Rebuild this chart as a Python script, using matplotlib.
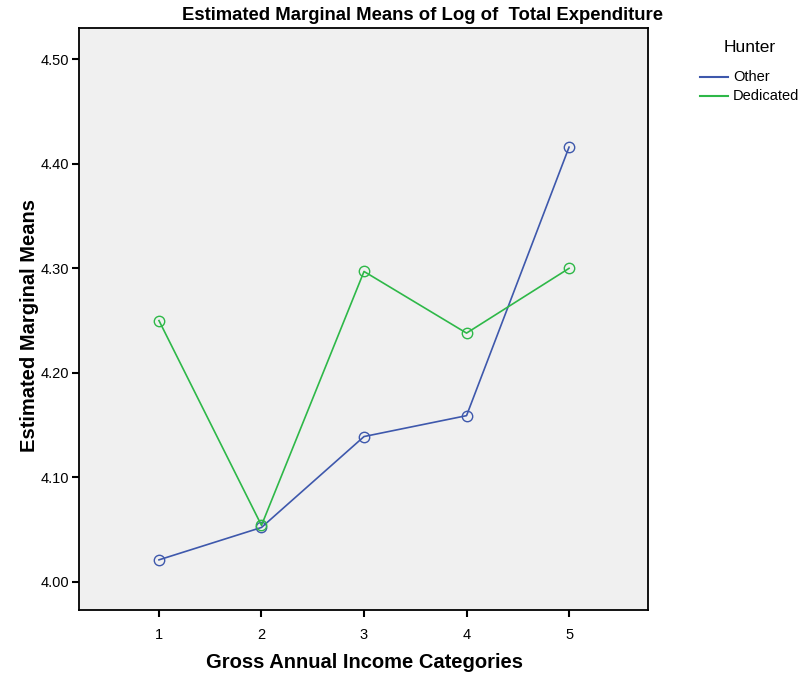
import matplotlib
matplotlib.use("Agg")
import matplotlib.pyplot as plt
from matplotlib.lines import Line2D

# Estimated marginal means by income category and hunter type
categories = [1, 2, 3, 4, 5]
other = [4.021, 4.052, 4.139, 4.159, 4.416]
dedicated = [4.250, 4.054, 4.297, 4.238, 4.300]
y_ticks = [4.00, 4.10, 4.20, 4.30, 4.40, 4.50]
series_names = ["Other", "Dedicated"]

font = "Liberation Sans"
blue = "#3E58AC"
green = "#2EB848"

W, H = 802, 677
fig = plt.figure(figsize=(W / 100, H / 100), dpi=100)
ax = fig.add_axes([79 / W, 1 - 610 / H, (648 - 79) / W, (610 - 28) / H])
ax.set_facecolor("#F0F0F0")

for vals, col in ((other, blue), (dedicated, green)):
    ax.plot(categories, vals, color=col, lw=1.2, marker="o", ms=7.5,
            mfc="none", mec=col, mew=1.0)

ax.set_xlim(0.22, 5.77)
ax.set_ylim(3.973, 4.53)
ax.set_xticks(categories)
ax.set_xticklabels([str(c) for c in categories], fontfamily=font, fontsize=10.5)
ax.set_yticks(y_ticks)
ax.set_yticklabels([f"{v:.2f}" for v in y_ticks], fontfamily=font, fontsize=10.5)
ax.tick_params(direction="out", length=5, width=1.5, color="black", pad=2)
ax.tick_params(axis="x", pad=8)
for s in ax.spines.values():
    s.set_linewidth(1.3)

fig.text(422 / W, 1 - 16 / H, "Estimated Marginal Means of Log of  Total Expenditure",
         ha="center", va="center", fontfamily=font, fontweight="bold", fontsize=13.3)
fig.text(364 / W, 1 - 662 / H, "Gross Annual Income Categories",
         ha="center", va="center", fontfamily=font, fontweight="bold", fontsize=14.5)
fig.text(30 / W, 1 - 325 / H, "Estimated Marginal Means", rotation=90,
         ha="center", va="center", fontfamily=font, fontweight="bold", fontsize=14.5)

# Legend drawn in figure pixels
fig.text(750 / W, 1 - 47 / H, "Hunter", ha="center", va="center",
         fontfamily=font, fontsize=12.5)
for i, (name, col) in enumerate(zip(series_names, (blue, green))):
    yy = 1 - (77 + 19 * i) / H
    fig.add_artist(Line2D([700 / W, 728 / W], [yy, yy], color=col, lw=1.5,
                          transform=fig.transFigure))
    fig.text(733 / W, yy, name, ha="left", va="center",
             fontfamily=font, fontsize=10.5)

fig.savefig("out.png", dpi=100)
